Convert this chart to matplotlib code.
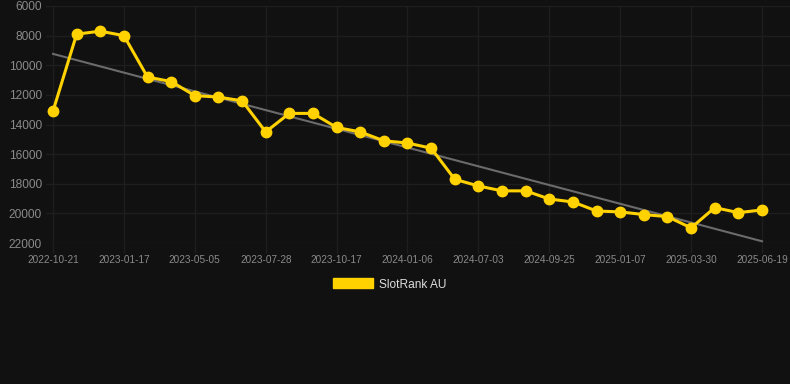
import matplotlib
matplotlib.use('Agg')
from matplotlib import pyplot as plt
from matplotlib.patches import Patch
import numpy as np

# SlotRank AU history (rank, lower is better -> axis inverted)
dates = ['2022-10-21', '2022-11-20', '2022-12-19', '2023-01-17', '2023-02-22',
         '2023-03-30', '2023-05-05', '2023-06-02', '2023-06-30', '2023-07-28',
         '2023-08-24', '2023-09-20', '2023-10-17', '2023-11-12', '2023-12-10',
         '2024-01-06', '2024-03-05', '2024-05-04', '2024-07-03', '2024-07-31',
         '2024-08-28', '2024-09-25', '2024-10-30', '2024-12-04', '2025-01-07',
         '2025-02-03', '2025-03-02', '2025-03-30', '2025-04-26', '2025-05-23',
         '2025-06-19']
ranks = [13100, 7900, 7700, 8000, 10800, 11100, 12050, 12150, 12400, 14500,
         13250, 13250, 14200, 14500, 15100, 15250, 15600, 17700, 18150, 18480,
         18480, 19030, 19230, 19840, 19900, 20080, 20220, 20980, 19610, 19950,
         19770]
y_ticks = [6000, 8000, 10000, 12000, 14000, 16000, 18000, 20000, 22000]
series_name = 'SlotRank AU'

BG = '#111111'
GRID = '#1e1e1e'
YELLOW = '#FFD200'
TICK = '#8a8a8a'

plt.rcParams['font.family'] = ['Liberation Sans', 'DejaVu Sans']

fig = plt.figure(figsize=(7.9, 3.84), dpi=100, facecolor=BG)
W, H = 790.0, 384.0
ax = fig.add_axes([46 / W, (H - 243) / H, (790 - 46) / W, (243 - 6) / H])
ax.set_facecolor(BG)

x = np.arange(len(ranks))

# trend line (least squares)
k, b = np.polyfit(x, ranks, 1)
ax.plot(x, k * x + b, color='#6b6b6b', lw=1.5, zorder=2)

ax.plot(x, ranks, color=YELLOW, lw=2.2, marker='o', ms=7.5,
        markerfacecolor=YELLOW, markeredgecolor=YELLOW, zorder=3)

step = 23.63
ax.set_xlim(-(53 - 46) / step, 30 + (790 - 762) / step)
ax.set_ylim(22000, 6000)

ax.set_yticks(y_ticks)
ax.set_yticklabels([str(v) for v in y_ticks])
ax.set_xticks(x[::3])
ax.set_xticklabels(dates[::3])

ax.grid(True, color=GRID, lw=1)
ax.set_axisbelow(True)
for s in ax.spines.values():
    s.set_visible(False)

ax.tick_params(axis='y', length=0, pad=3, labelsize=8.6, labelcolor=TICK)
ax.tick_params(axis='x', length=7, width=1, color=GRID, pad=1.5,
               labelsize=7.2, labelcolor=TICK)

handle = Patch(facecolor=YELLOW, edgecolor=YELLOW)
fig.legend([handle], [series_name], loc='center',
           bbox_to_anchor=(390 / W, (H - 284.5) / H), frameon=False,
           fontsize=8.6, labelcolor='#dddddd', handlelength=3.33,
           handleheight=0.92, handletextpad=0.5)

fig.savefig('out.png', dpi=100, facecolor=BG)
